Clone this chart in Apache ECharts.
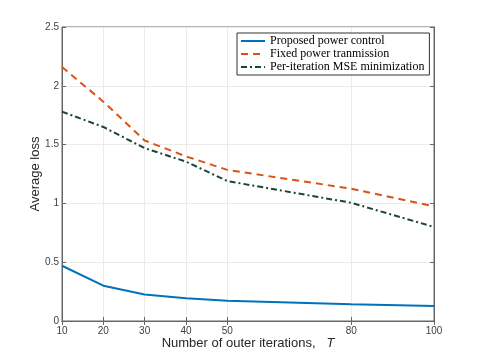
<!DOCTYPE html>
<html>
<head>
<meta charset="utf-8">
<script src="https://cdn.jsdelivr.net/npm/echarts@6/dist/echarts.min.js"></script>
<style>
html,body{margin:0;padding:0;background:#fff;}
#chart{width:480px;height:360px;}
</style>
</head>
<body>
<div id="chart"></div>
<script>
// outer iterations T
var iterations = [10, 20, 30, 40, 50, 80, 100];
var xTicks = [10, 20, 30, 40, 50, 80, 100];
var yTicks = [0, 0.5, 1, 1.5, 2, 2.5];

var proposed = [0.47, 0.30, 0.225, 0.193, 0.172, 0.143, 0.128];
var fixedPower = [2.16, 1.865, 1.535, 1.40, 1.285, 1.125, 0.975];
var perIterMse = [1.78, 1.65, 1.47, 1.355, 1.19, 1.005, 0.80];

var names = ['Proposed power control', 'Fixed power tranmission', 'Per-iteration MSE minimization'];

function pairs(ys){
    var out = [];
    for (var i = 0; i < iterations.length; i++) out.push([iterations[i], ys[i]]);
    return out;
}

var chart = echarts.init(document.getElementById('chart'));
var axisCol = '#666666';
var txtCol = '#404040';
var fontSans = 'Liberation Sans';

var option = {
    backgroundColor: '#ffffff',
    animation: false,
    grid: {
        left: 62, right: 46, top: 27, bottom: 39,
        show: true, borderColor: axisCol, borderWidth: 1
    },
    legend: {
        left: 237, top: 33,
        orient: 'vertical',
        itemWidth: 24, itemHeight: 12, itemGap: 1,
        padding: [2, 5, 2, 3],
        borderColor: '#333', borderWidth: 1, backgroundColor: '#fff',
        itemStyle: {opacity: 0},
        textStyle: {fontFamily: 'Liberation Serif', fontSize: 12, color: '#000'},
        data: names
    },
    xAxis: [{
        type: 'value', min: 10, max: 100,
        name: 'Number of outer iterations,   {i|T}',
        nameLocation: 'middle', nameGap: 16, nameMoveOverlap: false,
        nameTextStyle: {fontFamily: fontSans, fontSize: 13, color: '#262626',
            rich: {i: {fontStyle: 'italic', fontFamily: fontSans, fontSize: 13, color: '#262626'}}},
        axisLine: {lineStyle: {color: axisCol}},
        axisTick: {inside: true, length: 4, customValues: xTicks, lineStyle: {color: axisCol}},
        axisLabel: {customValues: xTicks, margin: 5, fontFamily: fontSans, fontSize: 10, color: txtCol},
        splitLine: {show: true, lineStyle: {color: '#ebebeb'}}
    }, {
        type: 'value', min: 10, max: 100, position: 'top',
        axisLine: {lineStyle: {color: axisCol}},
        axisTick: {inside: true, length: 4, customValues: xTicks, lineStyle: {color: axisCol}},
        axisLabel: {show: false},
        splitLine: {show: false}
    }],
    yAxis: [{
        type: 'value', min: 0, max: 2.5, interval: 0.5,
        name: 'Average loss',
        nameLocation: 'middle', nameGap: 20, nameMoveOverlap: false,
        nameTextStyle: {fontFamily: fontSans, fontSize: 13, color: '#262626'},
        axisLine: {show: true, lineStyle: {color: axisCol}},
        axisTick: {show: true, inside: true, length: 4, lineStyle: {color: axisCol}},
        axisLabel: {margin: 3, fontFamily: fontSans, fontSize: 10, color: txtCol,
            formatter: function(v){ return yTicks.indexOf(v) >= 0 ? String(v) : ''; }},
        splitLine: {show: true, lineStyle: {color: '#ebebeb'}}
    }, {
        type: 'value', min: 0, max: 2.5, interval: 0.5, position: 'right',
        axisLine: {show: true, lineStyle: {color: axisCol}},
        axisTick: {show: true, inside: true, length: 4, lineStyle: {color: axisCol}},
        axisLabel: {show: false},
        splitLine: {show: false}
    }],
    series: [
        {name: names[0], type: 'line', symbol: 'none', data: pairs(proposed),
            itemStyle: {color: '#0072BD'},
            lineStyle: {color: '#0072BD', width: 2}},
        {name: names[1], type: 'line', symbol: 'none', data: pairs(fixedPower),
            itemStyle: {color: '#D95319'},
            lineStyle: {color: '#D95319', width: 2, type: [7, 5]}},
        {name: names[2], type: 'line', symbol: 'none', data: pairs(perIterMse),
            itemStyle: {color: '#1C4532'},
            lineStyle: {color: '#1C4532', width: 2, type: [6, 3, 2, 3]}}
    ]
};
chart.setOption(option);
</script>
</body>
</html>
